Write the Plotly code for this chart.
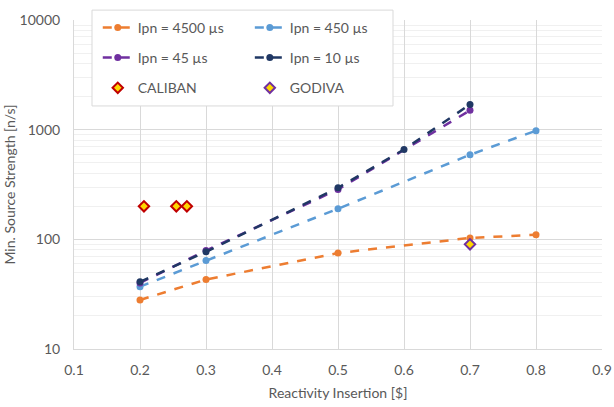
import plotly.graph_objects as go

x_4500 = [0.2, 0.3, 0.5, 0.7, 0.8]
y_4500 = [28, 43, 75, 103, 110]
x_450 = [0.2, 0.3, 0.5, 0.7, 0.8]
y_450 = [37, 64, 190, 590, 980]
x_45 = [0.2, 0.3, 0.5, 0.7]
y_45 = [40, 79, 285, 1500]
x_10 = [0.2, 0.3, 0.5, 0.6, 0.7]
y_10 = [41, 77, 295, 660, 1700]
x_caliban = [0.206, 0.255, 0.271]
y_caliban = [200, 200, 200]
x_godiva = [0.7]
y_godiva = [90]

x_ticks = [0.1, 0.2, 0.3, 0.4, 0.5, 0.6, 0.7, 0.8, 0.9]
y_ticks = [10, 100, 1000, 10000]

FONT = "Lato"
TXT = "#595959"

fig = go.Figure()

def line_trace(x, y, name, color, legend, group):
    return go.Scatter(x=x, y=y, name=name, mode="lines+markers",
                      line=dict(color=color, width=2.5, dash="dash"),
                      marker=dict(color=color, size=7),
                      legend=legend, legendgroup=group)

fig.add_trace(line_trace(x_4500, y_4500, "Ipn = 4500 µs", "#ED7D31", "legend", "a"))
fig.add_trace(line_trace(x_450, y_450, "Ipn = 450 µs", "#5B9BD5", "legend2", "b"))
fig.add_trace(line_trace(x_45, y_45, "Ipn = 45 µs", "#7030A0", "legend", "c"))
fig.add_trace(line_trace(x_10, y_10, "Ipn = 10 µs", "#203864", "legend2", "d"))
fig.add_trace(go.Scatter(x=x_caliban, y=y_caliban, name="CALIBAN", mode="markers",
                         marker=dict(symbol="diamond", size=8, color="#FFD700",
                                     line=dict(color="#C00000", width=2)),
                         legend="legend", legendgroup="e"))
fig.add_trace(go.Scatter(x=x_godiva, y=y_godiva, name="GODIVA", mode="markers",
                         marker=dict(symbol="diamond", size=8, color="#FFD700",
                                     line=dict(color="#7030A0", width=2)),
                         legend="legend2", legendgroup="f"))

minor_vals = [m * d for d in [10, 100, 1000] for m in range(2, 10)]

leg_common = dict(orientation="v", xanchor="left", yanchor="top",
                  bgcolor="rgba(0,0,0,0)", borderwidth=0,
                  font=dict(family=FONT, size=14, color=TXT),
                  tracegroupgap=9, traceorder="grouped")

fig.update_layout(
    width=614, height=407,
    margin=dict(l=74, r=12, t=16, b=58),
    paper_bgcolor="white", plot_bgcolor="white",
    font=dict(family=FONT, size=14, color=TXT),
    showlegend=True,
    legend=dict(x=0.045, y=1.025, **leg_common),
    legend2=dict(x=0.333, y=1.025, **leg_common),
    xaxis=dict(range=[0.1, 0.9], tickvals=x_ticks, ticktext=[f"{v:.1f}" for v in x_ticks],
               showgrid=True, gridcolor="#D9D9D9", gridwidth=1, automargin=False,
               zeroline=False, showline=True, linecolor="#D9D9D9",
               ticks="", ticklabelstandoff=8, tickfont=dict(size=14, color=TXT),
               title=dict(text="Reactivity Insertion [$]", font=dict(size=14, color=TXT), standoff=11)),
    yaxis=dict(type="log", range=[1, 4], tickvals=y_ticks, ticktext=[str(v) for v in y_ticks],
               showgrid=True, gridcolor="#D9D9D9", gridwidth=1, automargin=False,
               minor=dict(tickvals=minor_vals, showgrid=True, gridcolor="#F0F0F0", gridwidth=1, ticks=""),
               zeroline=False, showline=True, linecolor="#D9D9D9", mirror=False,
               ticks="", ticklabelstandoff=10, tickfont=dict(size=14, color=TXT),
               title=dict(text="Min. Source Strength [n/s]", font=dict(size=14, color=TXT), standoff=0)),
    shapes=[dict(type="rect", xref="paper", yref="paper",
                 x0=(92 - 74) / 528, x1=(393 - 74) / 528,
                 y0=(349 - 103) / 333, y1=(349 - 6) / 333,
                 line=dict(color="#D9D9D9", width=1), fillcolor="white", layer="above")],
)

fig.write_html("out.html")
